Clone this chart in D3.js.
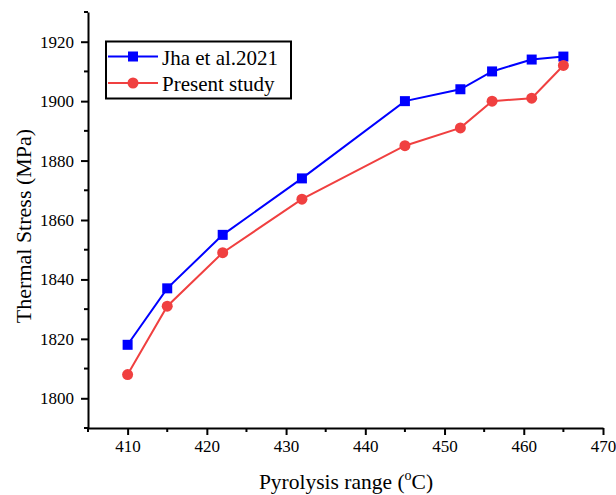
<!DOCTYPE html>
<html>
<head>
<meta charset="utf-8">
<script src="https://cdn.jsdelivr.net/npm/d3@7"></script>
<style>
  html, body { margin: 0; padding: 0; background: #fff; }
  svg { display: block; font-family: "Liberation Serif", "Times New Roman", serif; }
  svg text { font-family: "Liberation Serif", "Times New Roman", serif; }
</style>
</head>
<body>
<svg id="chart" width="616" height="495"></svg>
<script>
// Pyrolysis temperature (°C) and thermal stress (MPa)
const temps = [410, 415, 422, 432, 445, 452, 456, 461, 465];
const jhaStress = [1818, 1837, 1855, 1874, 1900, 1904, 1910, 1914, 1915];
const presentStress = [1808, 1831, 1849, 1867, 1885, 1891, 1900, 1901, 1912];
const seriesNames = ["Jha et al.2021", "Present study"];
const xTicks = [410, 420, 430, 440, 450, 460, 470];
const yTicks = [1800, 1820, 1840, 1860, 1880, 1900, 1920];

const svg = d3.select("#chart");
const plotLeft = 88, plotRight = 603, plotTop = 12, plotBottom = 428;

const x = d3.scaleLinear().domain([405, 470]).range([plotLeft, plotRight]);
const y = d3.scaleLinear().domain([1790, 1930]).range([plotBottom, plotTop]);

// minor ticks
const xMinor = d3.range(405, 471, 5).filter(v => !xTicks.includes(v));
const yMinor = d3.range(1790, 1931, 10).filter(v => !yTicks.includes(v));

const fmt = d3.format("d");
const axisG = svg.append("g");
// x axis
const gx = axisG.append("g").attr("transform", `translate(0,${plotBottom})`)
  .call(d3.axisBottom(x).tickValues(xTicks).tickFormat(fmt).tickSize(7).tickSizeOuter(0).tickPadding(5));
gx.append("g").selectAll("line").data(xMinor).join("line")
  .attr("x1", d => x(d)).attr("x2", d => x(d)).attr("y1", 0).attr("y2", 4)
  .attr("stroke", "#000").attr("stroke-width", 2);
// y axis
const gy = axisG.append("g").attr("transform", `translate(${plotLeft},0)`)
  .call(d3.axisLeft(y).tickValues(yTicks).tickFormat(fmt).tickSize(7).tickSizeOuter(0).tickPadding(7));
gy.append("g").selectAll("line").data(yMinor).join("line")
  .attr("y1", d => y(d)).attr("y2", d => y(d)).attr("x1", 0).attr("x2", -4)
  .attr("stroke", "#000").attr("stroke-width", 2);

[gx, gy].forEach(g => {
  g.attr("font-family", "Liberation Serif, serif").attr("font-size", 17);
  g.select(".domain").attr("stroke", "#000").attr("stroke-width", 2);
  g.selectAll(".tick line").attr("stroke", "#000").attr("stroke-width", 2);
  g.selectAll(".tick text").attr("font-family", "Liberation Serif, serif")
    .style("font-family", "'Liberation Serif', serif")
    .style("font-size", "17px").attr("fill", "#000");
});

// axis titles
const xt = svg.append("text").attr("x", 346).attr("y", 489).attr("text-anchor", "middle")
  .style("font-size", "21.5px").attr("fill", "#000");
xt.append("tspan").text("Pyrolysis range (");
xt.append("tspan").text("o").style("font-size", "14px").attr("dy", -9);
xt.append("tspan").text("C)").attr("dy", 9);

svg.append("text").attr("transform", `translate(31,226) rotate(-90)`)
  .attr("text-anchor", "middle").style("font-size", "22px").attr("fill", "#000")
  .text("Thermal Stress (MPa)");

// series
const series = [
  { name: seriesNames[0], values: jhaStress, color: "#0000FF", shape: "square" },
  { name: seriesNames[1], values: presentStress, color: "#F04040", shape: "circle" }
];
const line = d3.line().x(d => x(d[0])).y(d => y(d[1]));

function drawMarker(g, shape, color, cx, cy) {
  if (shape === "square") {
    g.append("rect").attr("x", cx - 5).attr("y", cy - 5).attr("width", 10).attr("height", 10)
      .attr("fill", color);
  } else {
    g.append("circle").attr("cx", cx).attr("cy", cy).attr("r", 5.5).attr("fill", color);
  }
}

series.forEach(s => {
  const pts = temps.map((t, i) => [t, s.values[i]]);
  svg.append("path").datum(pts).attr("d", line)
    .attr("fill", "none").attr("stroke", s.color).attr("stroke-width", 2);
  const g = svg.append("g");
  pts.forEach(p => drawMarker(g, s.shape, s.color, x(p[0]), y(p[1])));
});

// legend
const lg = svg.append("g");
lg.append("rect").attr("x", 106).attr("y", 41.5).attr("width", 185).attr("height", 57)
  .attr("fill", "#fff").attr("stroke", "#000").attr("stroke-width", 2);
series.forEach((s, i) => {
  const yy = 56.5 + i * 26.5;
  lg.append("line").attr("x1", 108).attr("x2", 158).attr("y1", yy).attr("y2", yy)
    .attr("stroke", s.color).attr("stroke-width", 2);
  drawMarker(lg, s.shape, s.color, 133, yy);
  lg.append("text").attr("x", 162).attr("y", yy + 8).style("font-size", "21px")
    .attr("fill", "#000").text(s.name);
});
</script>
</body>
</html>
